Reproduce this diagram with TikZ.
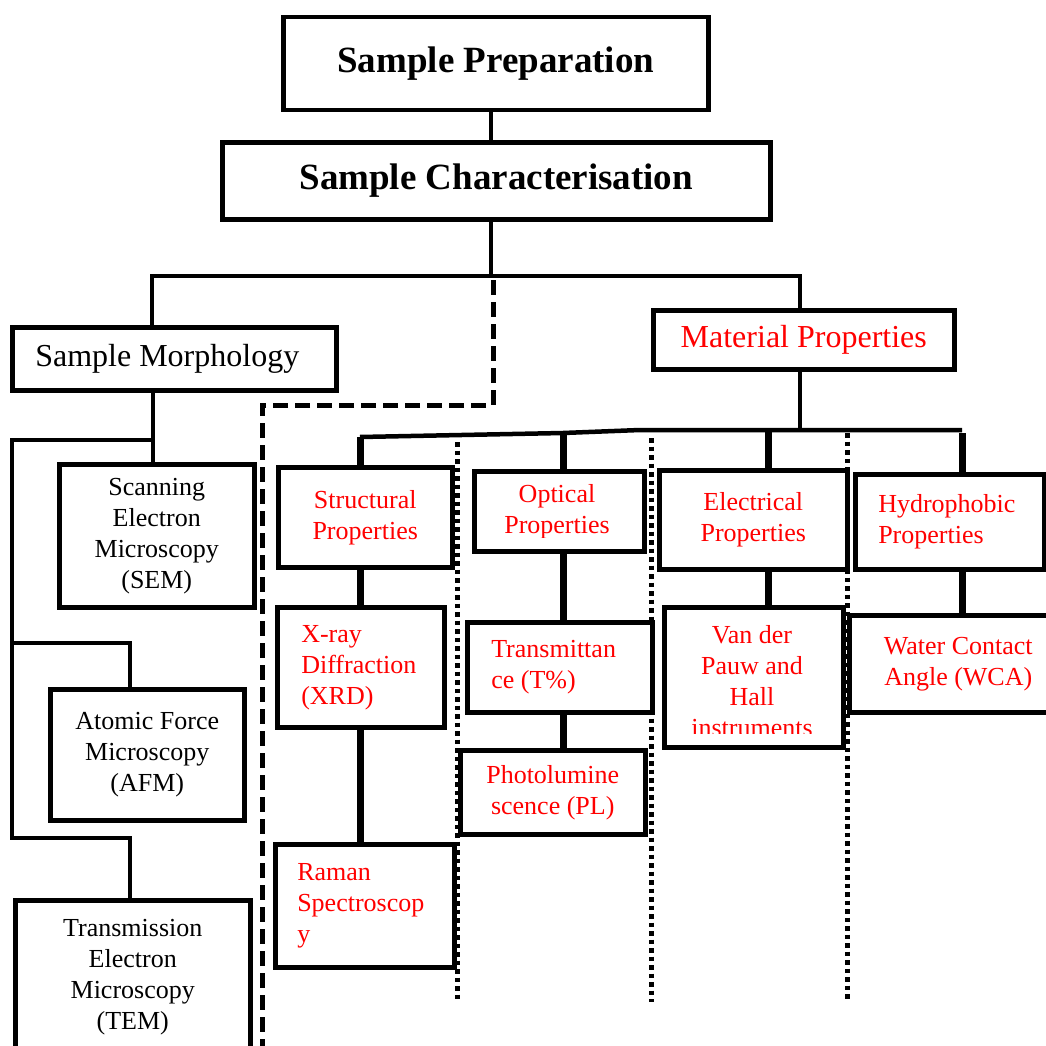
\documentclass[tikz,border=0pt]{standalone}
\usepackage{fontspec}
\setmainfont{Liberation Serif}
\begin{document}
\begin{tikzpicture}[x=1pt,y=-1pt,
  box/.style={draw, fill=white, line width=4.5pt, inner sep=0pt, anchor=north west,
    font=\fontsize{26}{31}\selectfont, align=center},
  redbox/.style={box, text=red},
  titlebox/.style={box, font=\fontsize{37}{44}\selectfont\bfseries},
  midbox/.style={box, font=\fontsize{32}{38}\selectfont},
  plaintext/.style={inner sep=0pt, font=\fontsize{26}{31}\selectfont, align=center, text=red},
  conn/.style={line width=4.5pt},
  thickconn/.style={line width=7pt},
  dashline/.style={line width=5pt, dash pattern=on 15pt off 7pt},
  dotline/.style={line width=5pt, dash pattern=on 4.5pt off 4pt},
]
\useasboundingbox (0,0) rectangle (1046,1046);
\clip (0,0) rectangle (1046,1046);

% dotted separators
\draw[dotline] (457,442) -- (457,1002);
\draw[dotline] (651,438) -- (651,1002);
\draw[dotline] (847,433) -- (847,1002);

% top boxes
\node[titlebox, minimum width=425pt, minimum height=93pt] (prep) at (281,15) {Sample Preparation};
\node[titlebox, minimum width=548pt, minimum height=77pt] (char) at (220,140) {Sample Characterisation};
\node[midbox, minimum width=324pt, minimum height=63pt, text width=278pt, align=flush left] (morph) at (10,325) {Sample Morphology};
\node[midbox, text=red, minimum width=301pt, minimum height=59pt] (mat) at (651,308) {Material Properties};

% morphology techniques
\node[box, minimum width=195pt, minimum height=143pt] (sem) at (57,462) {Scanning\\Electron\\Microscopy\\(SEM)};
\node[box, minimum width=194pt, minimum height=131pt] (afm) at (48,687) {Atomic Force\\Microscopy\\(AFM)};
\node[box, minimum width=235pt, minimum height=154pt] (tem) at (13,898) {Transmission\\Electron\\Microscopy\\(TEM)};

% property boxes
\node[redbox, minimum width=174pt, minimum height=100pt] (struct) at (276,465) {Structural\\Properties};
\node[box, minimum width=170pt, minimum height=80pt] (optical) at (472,469) {};
\begin{scope}
  \clip (472,469) rectangle (642,537);
  \node[plaintext] (opticaltext) at (557,512) {Optical\\Properties};
\end{scope}
\node[redbox, minimum width=188pt, minimum height=99pt] (elec) at (657,468) {Electrical\\Properties};
\node[redbox, minimum width=189pt, minimum height=95pt, text width=143pt, align=flush left] (hydro) at (853,472) {Hydrophobic\\Properties};

% technique boxes
\node[redbox, minimum width=167pt, minimum height=120pt, text width=119pt, align=flush left] (xray) at (275,605) {X-ray\\Diffraction\\(XRD)};
\node[redbox, minimum width=179pt, minimum height=123pt, text width=135pt, align=flush left] (raman) at (273,842) {Raman\\Spectroscop\\y};
\node[redbox, minimum width=185pt, minimum height=90pt, text width=137pt, align=flush left] (trans) at (465,620) {Transmittan\\ce (T\%)};
\node[redbox, minimum width=185pt, minimum height=84pt] (pl) at (458,748) {Photolumine\\scence (PL)};
\node[box, minimum width=179pt, minimum height=140pt] (vdp) at (662,605) {};
\begin{scope}
  \clip (662,605) rectangle (841,733);
  \node[plaintext] (vdptext) at (752,681) {Van der\\Pauw and\\Hall\\instruments};
\end{scope}
\node[redbox, minimum width=218pt, minimum height=97pt] (wca) at (847,613) {Water Contact\\Angle (WCA)};

% top connectors
\coordinate (cx) at (491,0);
\coordinate (top) at (491,276);
\coordinate (bl) at (152,276);
\coordinate (br) at (800,276);
\draw[conn] (prep.south -| cx) -- (char.north -| cx);
\draw[conn] (char.south -| cx) -- (top);
\draw[conn] (morph.north -| bl) -- (bl) -- (br) -- (mat.north -| br);

% dashed connector
\coordinate (d1) at (493,405);
\coordinate (d2) at (262,405);
\coordinate (d3) at (262,1060);
\draw[dashline] (493,280) -- (d1) -- (d2) -- (d3);

% material properties tree
\coordinate (mb) at (800,431);
\coordinate (s1) at (360,437);
\coordinate (s2) at (563,433);
\coordinate (kink) at (640,430);
\coordinate (s3) at (768,430);
\coordinate (s4) at (962,430);
\draw[conn] (mat.south -| mb) -- (mb);
\draw[conn] (s1) -- (s2) -- (kink) -- (s4);
\draw[thickconn] (s1) -- (s1 |- struct.north);
\draw[thickconn] (s2) -- (s2 |- optical.north);
\draw[thickconn] (s3) -- (s3 |- elec.north);
\draw[thickconn] ([yshift=-3pt]s4) -- (s4 |- hydro.north);
\draw[thickconn] (struct.south -| s1) -- (xray.north -| s1);
\draw[thickconn] (xray.south -| s1) -- (raman.north -| s1);
\draw[thickconn] (optical.south -| s2) -- (trans.north -| s2);
\draw[thickconn] (trans.south -| s2) -- (pl.north -| s2);
\draw[thickconn] (elec.south -| s3) -- (vdp.north -| s3);
\draw[thickconn] (hydro.south -| s4) -- (wca.north -| s4);

% morphology tree
\coordinate (ml) at (153,440);
\coordinate (ll) at (12,440);
\coordinate (l2) at (12,643);
\coordinate (a1) at (130,643);
\coordinate (l3) at (12,838);
\coordinate (t1) at (130,838);
\draw[conn] (morph.south -| ml) -- (sem.north -| ml);
\draw[conn] (ml) -- (ll) -- (l3) -- (t1) -- (t1 |- tem.north);
\draw[conn] (l2) -- (a1) -- (a1 |- afm.north);
\end{tikzpicture}
\end{document}
